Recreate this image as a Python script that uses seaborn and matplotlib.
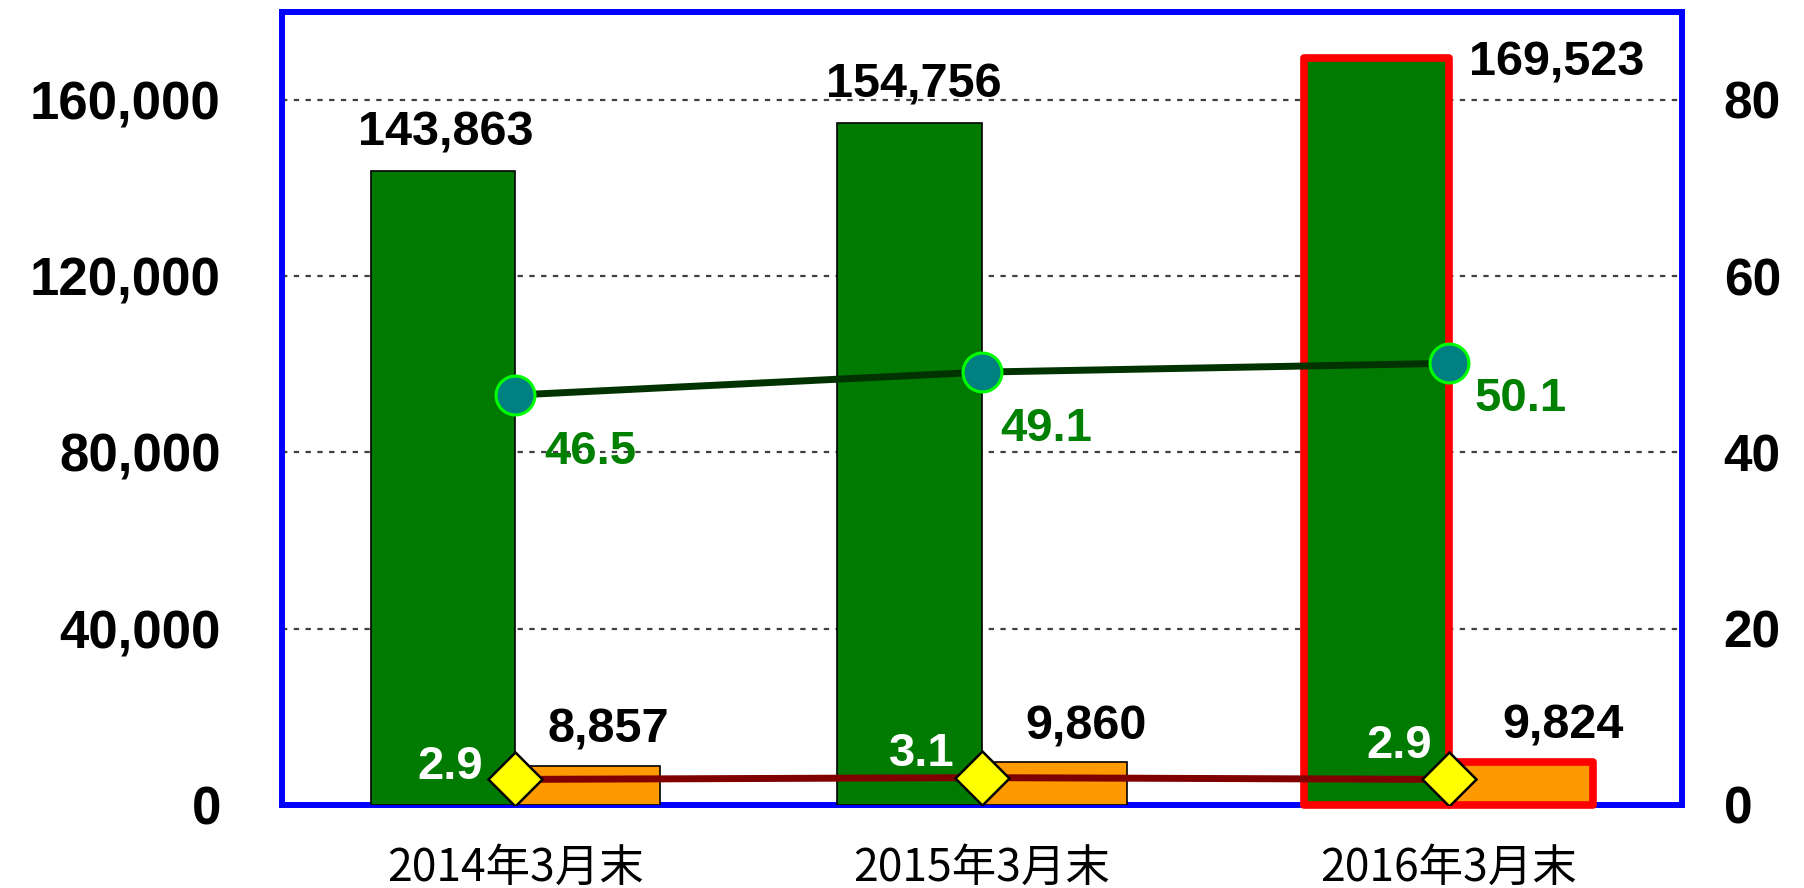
import numpy as np
import pandas as pd
import matplotlib.pyplot as plt
import seaborn as sns
from matplotlib.ticker import FuncFormatter

periods = ["2014年3月末", "2015年3月末", "2016年3月末"]
total_vals = [143863, 154756, 169523]
sub_vals = [8857, 9860, 9824]
share_total = [46.5, 49.1, 50.1]
share_sub = [2.9, 3.1, 2.9]

df = pd.DataFrame({
    "period": periods * 2,
    "value": total_vals + sub_vals,
    "series": ["total"] * 3 + ["sub"] * 3,
})

sns.set_style("white")
plt.rcParams["font.family"] = ["Liberation Sans", "DejaVu Sans"]

fig = plt.figure(figsize=(18.04, 8.88), dpi=100)
ax = fig.add_axes([0.1563, 0.0935, 0.7761, 0.8935])

sns.barplot(data=df, x="period", y="value", hue="series",
            palette=["#007A00", "#FF9900"], saturation=1, width=0.62,
            errorbar=None, legend=False, ax=ax,
            edgecolor="black", linewidth=1.2, zorder=3)

# last period highlighted with a red outline
for cont in ax.containers:
    p = cont.patches[2]
    p.set_edgecolor("#FF0000")
    p.set_linewidth(5.5)
    p.set_joinstyle("round")
    p.set_clip_on(False)

ax.set_xlim(-0.5, 2.5)
ax.set_ylim(0, 180000)
ax.set_yticks(range(0, 160001, 40000))
ax.yaxis.set_major_formatter(FuncFormatter(lambda v, _: f"{int(v):,}"))
ax.yaxis.grid(True, color="#404040", linestyle=(0, (2.4, 2.9)), linewidth=1.6)
ax.set_axisbelow(True)
ax.set_xlabel("")
ax.set_ylabel("")
ax.tick_params(axis="y", length=0, labelsize=38, pad=44, labelcolor="black")
ax.tick_params(axis="x", length=0, pad=29, labelcolor="black")
ax.set_xticks([0, 1, 2])
ax.set_xticklabels(periods, fontsize=32, family=["Noto Sans CJK JP", "DejaVu Sans"])
for lab in ax.get_yticklabels():
    lab.set_fontweight("bold")
for s in ax.spines.values():
    s.set_color("#0000FF")
    s.set_linewidth(4.3)
    s.set_visible(True)

# value labels over bars
bar_offsets = [[(2, 27), (3, 27), (130, -4)], [(15, 26), (23, 25), (30, 26)]]
for cont, vals, offs in zip(ax.containers, [total_vals, sub_vals], bar_offsets):
    for p, v, off in zip(cont.patches, vals, offs):
        ax.annotate(f"{v:,}", (p.get_x() + p.get_width() / 2, p.get_height()),
                    xytext=off, textcoords="offset points", ha="center", va="center",
                    fontsize=35, fontweight="bold", color="black", zorder=6)

ax2 = ax.twinx()
xs = np.arange(len(periods))
sns.lineplot(x=xs, y=share_total, ax=ax2, color="#003300", linewidth=5,
             marker="o", markersize=28, markerfacecolor="#008080",
             markeredgecolor="#00FF00", markeredgewidth=2.2, zorder=5)
sns.lineplot(x=xs, y=share_sub, ax=ax2, color="#800000", linewidth=5,
             marker="D", markersize=27, markerfacecolor="#FFFF00",
             markeredgecolor="black", markeredgewidth=1.8, zorder=5)
ax2.set_xlim(-0.5, 2.5)
ax2.set_ylim(0, 90)
ax2.set_yticks(range(0, 81, 20))
ax2.set_ylabel("")
ax2.tick_params(axis="y", length=0, labelsize=37, pad=30, labelcolor="black")
for lab in ax2.get_yticklabels():
    lab.set_fontweight("bold")
for s in ax2.spines.values():
    s.set_visible(False)

a_offsets = [(54, -41), (46, -41), (52, -26)]
for x, v, off in zip(xs, share_total, a_offsets):
    ax2.annotate(f"{v:.1f}", (x, v), xytext=off, textcoords="offset points",
                 ha="center", va="center", fontsize=34, fontweight="bold", color="#008000")
b_offsets = [(-47, 9), (-43, 17), (-36, 24)]
for x, v, off in zip(xs, share_sub, b_offsets):
    ax2.annotate(f"{v:.1f}", (x, v), xytext=off, textcoords="offset points",
                 ha="center", va="center", fontsize=34, fontweight="bold", color="white")

plt.savefig("out.png", dpi=100)
